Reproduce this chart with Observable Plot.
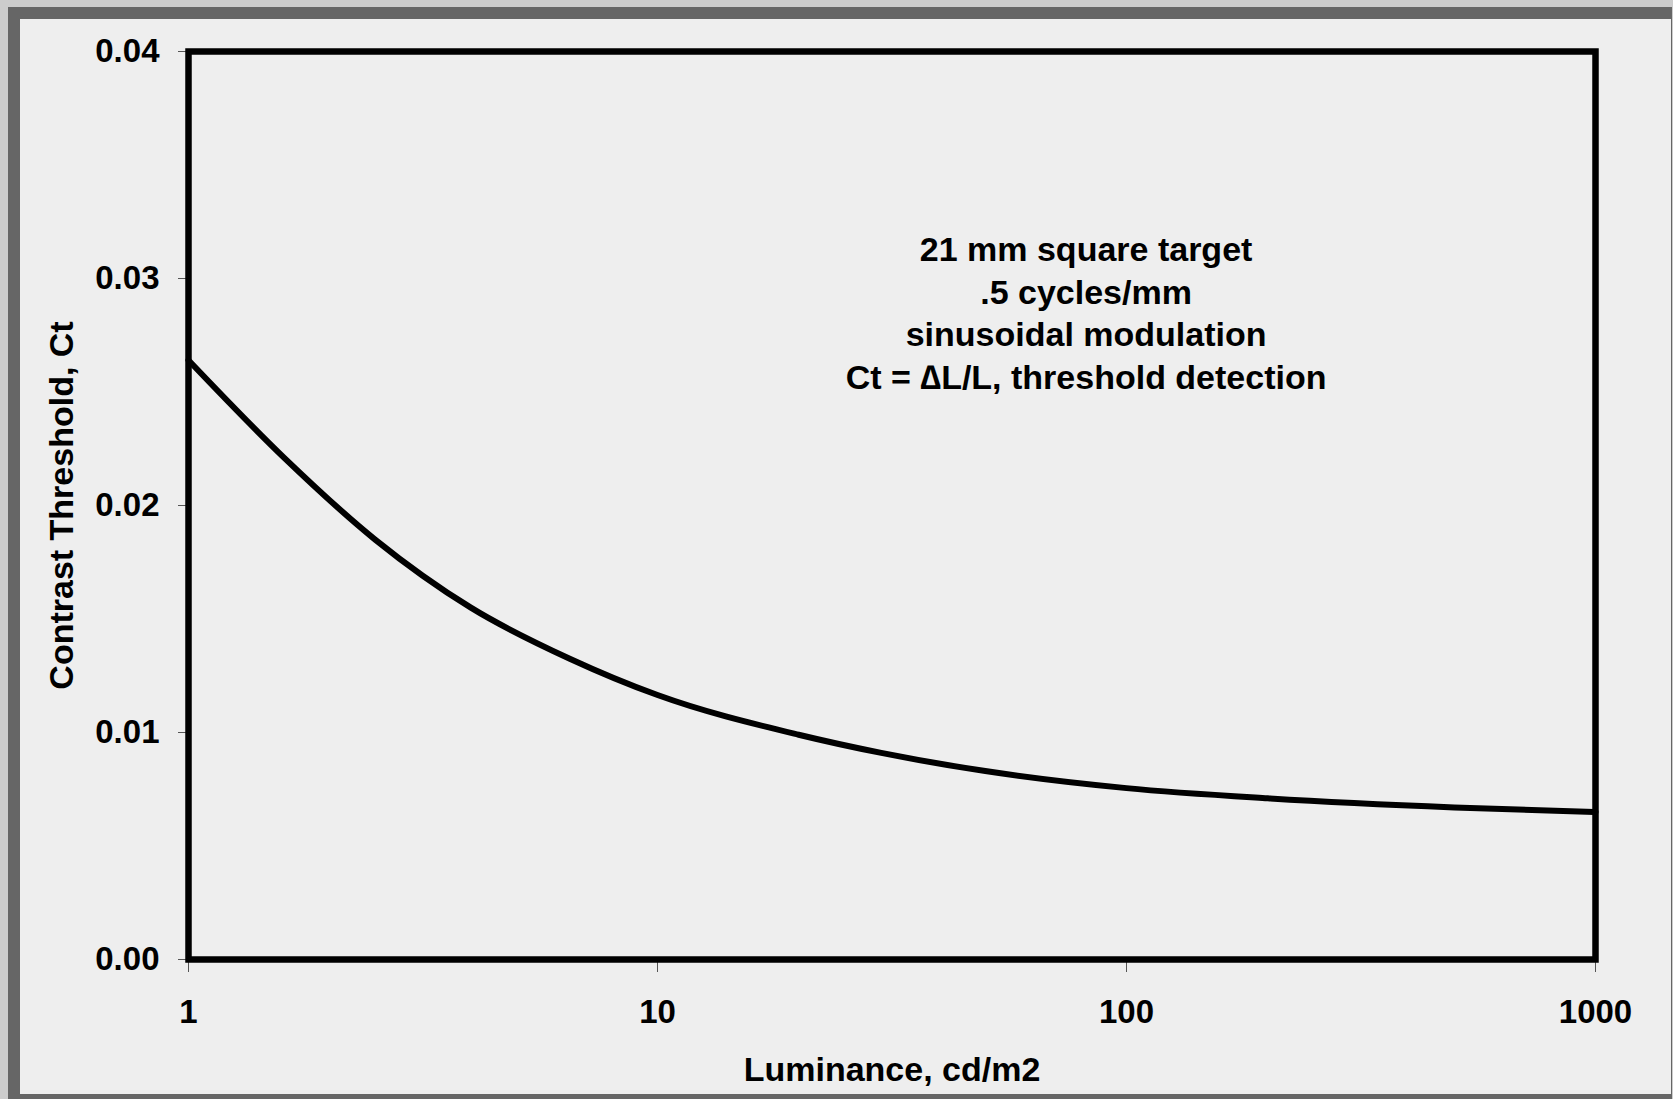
<!DOCTYPE html>
<html>
<head>
<meta charset="utf-8">
<script src="https://cdn.jsdelivr.net/npm/d3@7"></script>
<script src="https://cdn.jsdelivr.net/npm/@observablehq/plot@0.6"></script>
<style>
html, body { margin: 0; padding: 0; background: #cccccc; width: 1673px; height: 1099px; overflow: hidden; }
#panel { position: absolute; left: 8px; top: 7px; width: 1651px; height: 1075px; background: #eeeeee;
  border-style: solid; border-color: #666666; border-width: 12px 1px 12px 12px; }
#chart { position: absolute; left: 0; top: 0; }
</style>
</head>
<body>
<div id="panel"></div>
<div id="chart"></div>
<script>
// Data
const luminance = [1, 1.6, 2.5, 4, 6.5, 10, 20, 30, 50, 100, 200, 500, 1000];
const threshold = [0.0264, 0.0221, 0.0185, 0.0155, 0.01325, 0.01165, 0.0099, 0.0091, 0.0083, 0.00755, 0.0071, 0.0067, 0.0065];
const xTicks = [1, 10, 100, 1000];
const yTicks = [0, 0.01, 0.02, 0.03, 0.04];
const xLabel = "Luminance, cd/m2";
const yLabel = "Contrast Threshold, Ct";
const noteLines = ["21 mm square target", ".5 cycles/mm", "sinusoidal modulation", "Ct = \u2206L/L, threshold detection"];
const noteX = 82;
const noteY = 0.0321;

const data = luminance.map((x, i) => ({x, y: threshold[i]}));
const note = [{x: noteX, y: noteY, t: noteLines.join("\n")}];

const chart = Plot.plot({
  width: 1673,
  height: 1099,
  marginLeft: 188,
  marginRight: 78,
  marginTop: 51,
  marginBottom: 140,
  style: {
    background: "transparent",
    fontFamily: "'Liberation Sans', Arial, sans-serif",
    fontWeight: "bold",
    fontSize: "33px",
    color: "#000"
  },
  x: {type: "log", domain: [1, 1000]},
  y: {domain: [0, 0.04]},
  marks: [
    Plot.axisX({ticks: xTicks, tickFormat: d => String(d), tickSize: 13, tickPadding: 27, stroke: "#555", strokeWidth: 1, label: null, fontSize: 33}),
    Plot.axisY({ticks: yTicks, tickFormat: d3.format(".2f"), tickSize: 10, tickPadding: 19, stroke: "#555", strokeWidth: 1, label: null, fontSize: 33}),
    Plot.line(data, {x: "x", y: "y", stroke: "#000", strokeWidth: 6, curve: "monotone-x"}),
    Plot.frame({stroke: "#000", strokeWidth: 6.5}),
    Plot.text(note, {x: "x", y: "y", text: "t", lineAnchor: "top", lineHeight: 1.255, fontSize: 34, textAnchor: "middle", fill: "#000"}),
    Plot.text([xLabel], {text: d => d, frameAnchor: "bottom", textAnchor: "middle", lineAnchor: "bottom", dy: 121, fontSize: 34, fill: "#000"}),
    Plot.text([yLabel], {text: d => d, frameAnchor: "left", textAnchor: "middle", rotate: -90, lineAnchor: "bottom", dx: -116, fontSize: 34, fill: "#000"})
  ]
});
document.getElementById("chart").appendChild(chart);
</script>
</body>
</html>
